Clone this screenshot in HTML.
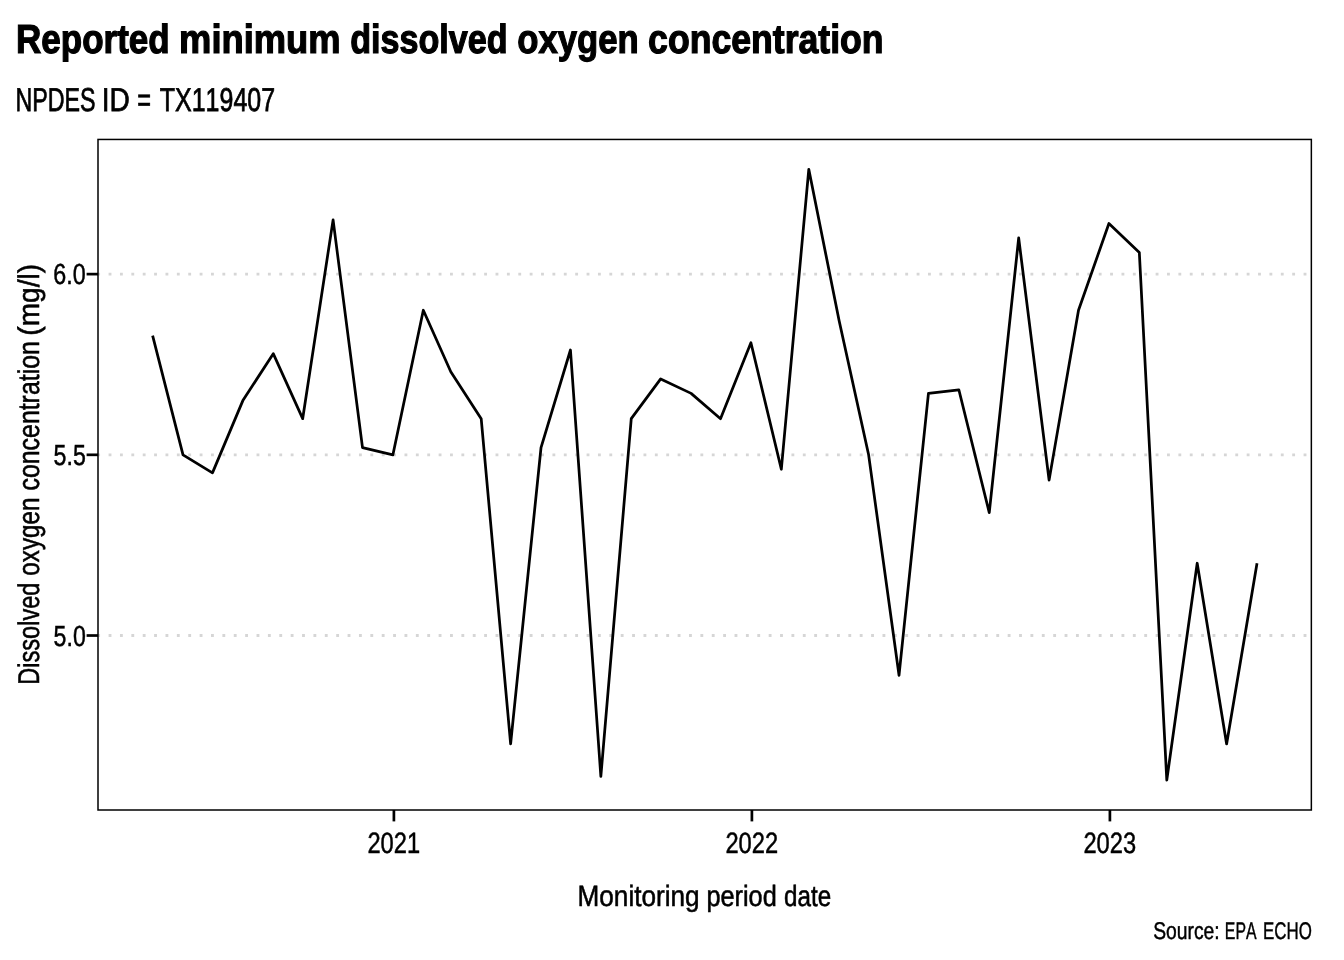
<!DOCTYPE html>
<html><head><meta charset="utf-8"><title>Reported minimum dissolved oxygen concentration</title>
<style>
html,body{margin:0;padding:0;background:#fff;}
svg{display:block;}
text{font-family:"Liberation Sans",sans-serif;fill:#000;font-kerning:none;white-space:pre;text-rendering:geometricPrecision;}
</style></head><body>
<svg width="1344" height="960" viewBox="0 0 1344 960">
<rect x="0" y="0" width="1344" height="960" fill="#fff"/>
<g stroke="#d6d6d6" stroke-width="2.85" stroke-dasharray="2.85 8.531" fill="none">
<line x1="97.2" x2="1311.35" y1="274.12" y2="274.12"/>
<line x1="97.2" x2="1311.35" y1="454.82" y2="454.82"/>
<line x1="97.2" x2="1311.35" y1="635.52" y2="635.52"/>
</g>
<polyline points="152.62,335.56 183.02,454.82 212.45,472.89 242.85,400.61 273.26,353.63 302.68,418.68 333.09,219.91 362.51,447.59 392.92,454.82 423.32,310.26 450.79,371.70 481.19,418.68 510.62,743.94 541.02,447.59 570.45,350.01 600.85,776.47 631.26,418.68 660.68,378.93 691.09,393.38 720.51,418.68 750.92,342.79 781.32,469.28 808.79,169.31 839.19,321.10 868.62,454.82 899.02,675.27 928.45,393.38 958.85,389.77 989.26,512.64 1018.68,237.98 1049.09,480.12 1078.51,310.26 1108.92,223.52 1139.32,252.44 1166.79,780.08 1197.19,563.24 1226.62,743.94 1257.02,563.24" fill="none" stroke="#000" stroke-width="2.75" stroke-linejoin="round" stroke-linecap="butt"/>
<rect x="98.0" y="139.45" width="1213.35" height="670.55" fill="none" stroke="#000" stroke-width="1.5"/>
<g stroke="#000" stroke-width="2.7">
<line x1="86.6" x2="98.0" y1="274.12" y2="274.12"/>
<line x1="86.6" x2="98.0" y1="454.82" y2="454.82"/>
<line x1="86.6" x2="98.0" y1="635.52" y2="635.52"/>
<line x1="393.90" x2="393.90" y1="810.0" y2="821.4"/>
<line x1="751.90" x2="751.90" y1="810.0" y2="821.4"/>
<line x1="1109.90" x2="1109.90" y1="810.0" y2="821.4"/>
</g>
<text font-size="40.6" y="53" font-weight="bold" stroke="#000" stroke-width="1.2"><tspan x="16.06" textLength="153.65" lengthAdjust="spacingAndGlyphs">Reported</tspan> <tspan x="179.10" textLength="161.55" lengthAdjust="spacingAndGlyphs">minimum</tspan> <tspan x="350.20" textLength="157.45" lengthAdjust="spacingAndGlyphs">dissolved</tspan> <tspan x="517.25" textLength="121.40" lengthAdjust="spacingAndGlyphs">oxygen</tspan> <tspan x="648.11" textLength="235.50" lengthAdjust="spacingAndGlyphs">concentration</tspan></text>
<text font-size="33.1" y="111" stroke="#000" stroke-width="0.75"><tspan x="15.47" textLength="80.02" lengthAdjust="spacingAndGlyphs">NPDES</tspan> <tspan x="101.78" textLength="28.09" lengthAdjust="spacingAndGlyphs">ID</tspan> <tspan x="137.22" textLength="13.76" lengthAdjust="spacingAndGlyphs">=</tspan> <tspan x="159.81" textLength="115.27" lengthAdjust="spacingAndGlyphs">TX119407</tspan></text>
<text font-size="29.0" y="284" stroke="#000" stroke-width="0.5"><tspan x="53.37" textLength="32.39" lengthAdjust="spacingAndGlyphs">6.0</tspan></text><text font-size="29.0" y="465" stroke="#000" stroke-width="0.5"><tspan x="53.62" textLength="32.20" lengthAdjust="spacingAndGlyphs">5.5</tspan></text><text font-size="29.0" y="646" stroke="#000" stroke-width="0.5"><tspan x="53.62" textLength="32.13" lengthAdjust="spacingAndGlyphs">5.0</tspan></text>
<text font-size="29.4" y="853" stroke="#000" stroke-width="0.5"><tspan x="367.46" textLength="52.68" lengthAdjust="spacingAndGlyphs">2021</tspan></text><text font-size="29.4" y="853" stroke="#000" stroke-width="0.5"><tspan x="725.46" textLength="52.68" lengthAdjust="spacingAndGlyphs">2022</tspan></text><text font-size="29.4" y="853" stroke="#000" stroke-width="0.5"><tspan x="1083.46" textLength="52.68" lengthAdjust="spacingAndGlyphs">2023</tspan></text>
<text font-size="29.3" y="906" stroke="#000" stroke-width="0.55"><tspan x="577.53" textLength="122.08" lengthAdjust="spacingAndGlyphs">Monitoring</tspan> <tspan x="706.44" textLength="70.31" lengthAdjust="spacingAndGlyphs">period</tspan> <tspan x="784.06" textLength="47.14" lengthAdjust="spacingAndGlyphs">date</tspan></text>
<text font-size="29.9" y="0" stroke="#000" stroke-width="0.55" transform="translate(39,683) rotate(-90)"><tspan x="-1.66" textLength="102.00" lengthAdjust="spacingAndGlyphs">Dissolved</tspan> <tspan x="107.36" textLength="78.14" lengthAdjust="spacingAndGlyphs">oxygen</tspan> <tspan x="192.52" textLength="149.32" lengthAdjust="spacingAndGlyphs">concentration</tspan> <tspan x="347.33" textLength="71.84" lengthAdjust="spacingAndGlyphs">(mg/l)</tspan></text>
<text font-size="24.2" y="939" stroke="#000" stroke-width="0.45"><tspan x="1153.15" textLength="66.49" lengthAdjust="spacingAndGlyphs">Source:</tspan> <tspan x="1224.83" textLength="31.68" lengthAdjust="spacingAndGlyphs">EPA</tspan> <tspan x="1263.04" textLength="48.79" lengthAdjust="spacingAndGlyphs">ECHO</tspan></text>
</svg>
</body></html>
